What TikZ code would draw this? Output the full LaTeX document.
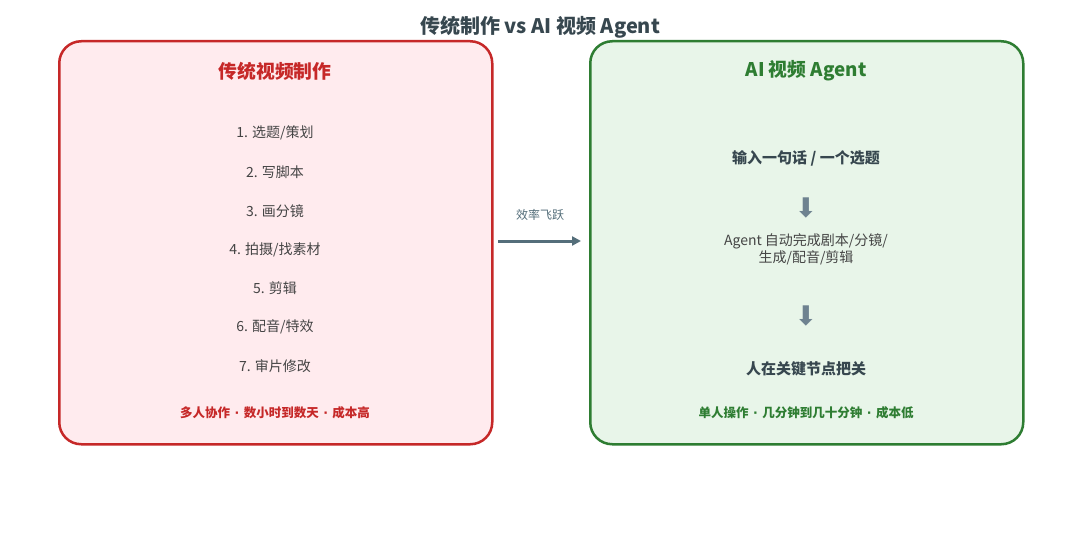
\documentclass[tikz,border=0pt]{standalone}
\usepackage{fontspec}
\setmainfont{Noto Sans CJK SC}
\newfontfamily\symfont{DejaVu Sans}
\usetikzlibrary{arrows.meta}
\definecolor{redline}{HTML}{C62828}
\definecolor{redfill}{HTML}{FFEBEE}
\definecolor{greenline}{HTML}{2E7D32}
\definecolor{greenfill}{HTML}{E8F5E9}
\definecolor{txt}{HTML}{444444}
\definecolor{dark}{HTML}{37474F}
\definecolor{slate}{HTML}{546E7A}
\definecolor{arrowgray}{HTML}{6E8290}
\newcommand{\mdot}{\hspace{4.5pt}{\symfont ·}\hspace{4.5pt}}
\tikzset{
  panel/.style={draw, line width=2.5pt, rounded corners=22pt, minimum width=433pt, minimum height=403pt, anchor=north west, inner sep=0pt},
  item/.style={font=\fontsize{14}{16}\selectfont, text=txt, inner sep=0pt},
  boxtitle/.style={font=\fontsize{18.8}{20}\selectfont\bfseries, inner sep=0pt},
  foot/.style={font=\fontsize{12.5}{14}\selectfont\bfseries, inner sep=0pt},
  bolditem/.style={font=\fontsize{15}{17}\selectfont\bfseries, text=dark, inner sep=0pt},
  downarr/.style={font=\symfont\fontsize{27}{27}\selectfont, text=arrowgray, inner sep=0pt},
}
\begin{document}
\begin{tikzpicture}[x=1pt,y=-1pt]
\useasboundingbox (0,0) rectangle (1080,535);
\fill[white] (0,0) rectangle (1080,535);
\node[font=\fontsize{20}{22}\selectfont\bfseries, text=dark, inner sep=0pt] (title) at (540,27) {传统制作 vs AI 视频 Agent};
% left panel
\node[panel, draw=redline, fill=redfill] (left) at (58,40) {};
\node[boxtitle, text=redline] (ltitle) at (275,71) {传统视频制作};
\node[item] (l1) at (275,133) {1. 选题/策划};
\node[item] (l2) at (275,172) {2. 写脚本};
\node[item] (l3) at (275,211) {3. 画分镜};
\node[item] (l4) at (275,250) {4. 拍摄/找素材};
\node[item] (l5) at (275,288) {5. 剪辑};
\node[item] (l6) at (275,327) {6. 配音/特效};
\node[item] (l7) at (275,366) {7. 审片修改};
\node[foot, text=redline] (lfoot) at (275,413) {多人协作\mdot 数小时到数天\mdot 成本高};
% right panel
\node[panel, draw=greenline, fill=greenfill] (right) at (589,40) {};
\node[boxtitle, text=greenline] (rtitle) at (806,71) {AI 视频 Agent};
\node[bolditem] (r1) at (806,158) {输入一句话 / 一个选题};
\node[downarr] (a1) at (806,208) {⬇};
\node[item, align=center, font=\fontsize{14}{17}\selectfont] (r2) at (806,249.5) {Agent 自动完成剧本/分镜/\\生成/配音/剪辑};
\node[downarr] (a2) at (806,316) {⬇};
\node[bolditem] (r3) at (806,369) {人在关键节点把关};
\node[foot, text=greenline] (rfoot) at (806,413) {单人操作\mdot 几分钟到几十分钟\mdot 成本低};
% middle arrow
\node[font=\fontsize{12}{14}\selectfont, text=slate, inner sep=0pt] (lab) at (540,215) {效率飞跃};
\coordinate (as) at (498,241);
\coordinate (ae) at (581,241);
\draw[slate, line width=3pt, -{Triangle[length=9pt,width=9pt]}] (as) -- (ae);
\end{tikzpicture}
\end{document}
